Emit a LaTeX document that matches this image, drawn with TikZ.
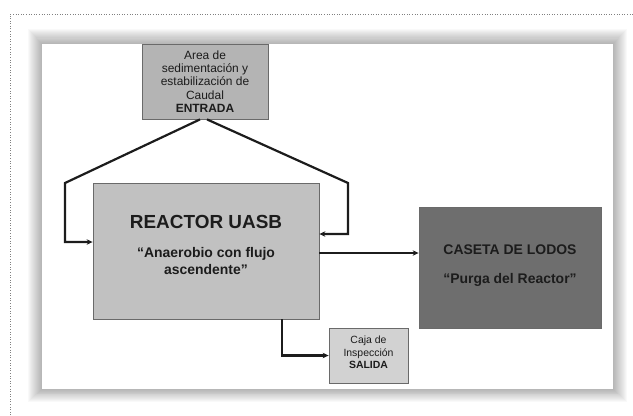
\documentclass[tikz,border=0pt]{standalone}
\usepackage{fontspec}
\setmainfont{Liberation Sans}
\usepackage{tikz}
\usetikzlibrary{arrows.meta}
\definecolor{inkgray}{HTML}{1C1C1C}
\definecolor{edgegray}{HTML}{6A6A6A}
\definecolor{inletgray}{HTML}{B4B4B4}
\definecolor{reactorgray}{HTML}{C1C1C1}
\definecolor{sludgegray}{HTML}{6E6E6E}
\definecolor{outletgray}{HTML}{D2D2D2}
\tikzset{
  tankbox/.style={draw=edgegray, line width=0.8pt, inner sep=2pt, align=center, text=inkgray},
  flowline/.style={-{Stealth[length=6pt,width=5.5pt]}, draw=inkgray, line width=2.2pt},
  outerframe/.style={draw=gray, line width=0.6pt, dotted},
  shadowring/.style={fill=black, opacity=0.022}
}

\begin{document}
\begin{tikzpicture}[x=1bp,y=-1bp]
  \useasboundingbox (0,0) rectangle (633,415);
  \draw[outerframe] (10,415) -- (10,14) -- (633,14);
  % soft shadow round the slide
  \foreach \r in {1,...,14}
    \fill[shadowring] (42-\r,44-1.1*\r) rectangle (613+\r,389+0.9*\r);
  \fill[white] (42,44) rectangle (613,389);

  % process units
  \node[tankbox, fill=inletgray, minimum width=126bp, minimum height=75bp,
        font={\fontsize{12}{13.3}\selectfont}] (entrada) at (205,81.5)
    {Area de\\sedimentación y\\estabilización de\\Caudal\\\textbf{ENTRADA}};
  \node[tankbox, fill=reactorgray, minimum width=226bp, minimum height=136bp,
        font={\fontsize{14}{17}\selectfont\bfseries}] (reactor) at (206,251)
    {{\fontsize{19}{21}\selectfont REACTOR UASB}\\[12bp]“Anaerobio con flujo\\ascendente”\\[-5bp]\mbox{}};
  \node[tankbox, fill=sludgegray, minimum width=182bp, minimum height=121bp,
        font={\fontsize{14}{17}\selectfont\bfseries}] (caseta) at (510,268)
    {CASETA DE LODOS\\[12bp]“Purga del Reactor”\\[-10bp]\mbox{}};
  \node[tankbox, fill=outletgray, minimum width=79bp, minimum height=55bp,
        font={\fontsize{10.5}{12.5}\selectfont}] (salida) at (368.5,355.5)
    {Caja de\\Inspección\\\textbf{SALIDA}\\[-6bp]\mbox{}};

  % bends of the feed lines
  \coordinate (feedL) at (65,183);
  \coordinate (feedLlow) at (65,242);
  \coordinate (feedR) at (348,183);
  \coordinate (feedRlow) at (348,234);

  \draw[flowline] ([xshift=-5bp]entrada.south) -- (feedL) -- (feedLlow) -- (reactor.west |- feedLlow);
  \draw[flowline] ([xshift=2bp]entrada.south) -- (feedR) -- (feedRlow) -- (reactor.east |- feedRlow);
  \draw[flowline] ([yshift=-2bp]reactor.east) -- ([yshift=-2bp]reactor.east -| caseta.west);
  \draw[flowline] ([xshift=76bp]reactor.south) |- (salida.west);
\end{tikzpicture}
\end{document}
